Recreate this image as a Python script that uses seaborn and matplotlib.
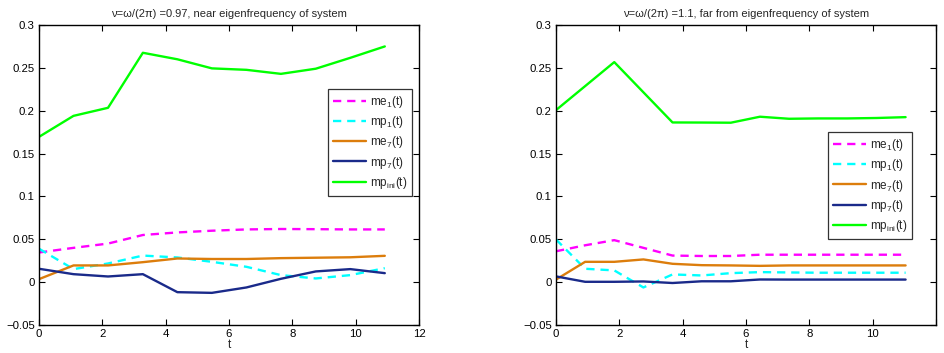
import numpy as np
import pandas as pd
import matplotlib
matplotlib.use("Agg")
import matplotlib.pyplot as plt
import seaborn as sns

# --- data -------------------------------------------------------------
t_near = [0, 1.09, 2.18, 3.28, 4.37, 5.46, 6.55, 7.64, 8.74, 9.83, 10.92]
me1_near = [0.0346, 0.040, 0.045, 0.055, 0.058, 0.060, 0.0615, 0.062, 0.0618, 0.0615, 0.0615]
mp1_near = [0.039, 0.0152, 0.0218, 0.031, 0.0288, 0.0237, 0.0179, 0.0082, 0.0043, 0.0082, 0.0163]
me7_near = [0.0035, 0.0195, 0.0195, 0.0233, 0.0276, 0.027, 0.027, 0.028, 0.0285, 0.029, 0.0307]
mp7_near = [0.0156, 0.0093, 0.0066, 0.0093, -0.0117, -0.0125, -0.0062, 0.0039, 0.0125, 0.0152, 0.0105]
mpini_near = [0.1695, 0.194, 0.2034, 0.2676, 0.260, 0.2494, 0.2477, 0.243, 0.249, 0.2617, 0.275]

t_far = [0, 0.92, 1.84, 2.76, 3.68, 4.6, 5.52, 6.44, 7.36, 8.28, 9.2, 10.12, 11.04]
me1_far = [0.036, 0.043, 0.049, 0.040, 0.031, 0.0305, 0.0305, 0.032, 0.032, 0.032, 0.032, 0.032, 0.032]
mp1_far = [0.0498, 0.0156, 0.0137, -0.0062, 0.009, 0.0078, 0.0105, 0.0117, 0.0113, 0.011, 0.011, 0.011, 0.011]
me7_far = [0.003, 0.0237, 0.0237, 0.0265, 0.0214, 0.0198, 0.0195, 0.019, 0.0195, 0.0195, 0.0195, 0.0195, 0.0195]
mp7_far = [0.0067, 0.0004, 0.0004, 0.0008, -0.001, 0.001, 0.001, 0.0031, 0.003, 0.003, 0.003, 0.003, 0.003]
mpini_far = [0.2007, 0.2287, 0.2567, 0.2215, 0.1863, 0.1862, 0.186, 0.193, 0.1906, 0.191, 0.191, 0.1915, 0.1925]

series_labels = ["me$_1$(t)", "mp$_1$(t)", "me$_7$(t)", "mp$_7$(t)", "mp$_{ini}$(t)"]
titles = ["ν=ω/(2π) =0.97, near eigenfrequency of system",
          "ν=ω/(2π) =1.1, far from eigenfrequency of system"]
x_ticks = [0, 2, 4, 6, 8, 10, 12]
y_ticks = [-0.05, 0, 0.05, 0.1, 0.15, 0.2, 0.25, 0.3]
y_tick_labels = ["\u22120.05", "0", "0.05", "0.1", "0.15", "0.2", "0.25", "0.3"]

# --- style -------------------------------------------------------------
sns.set_theme(style="ticks")
plt.rcParams["font.family"] = ["Liberation Sans", "DejaVu Sans"]
plt.rcParams["mathtext.fontset"] = "custom"
plt.rcParams["mathtext.rm"] = "Liberation Sans"
plt.rcParams["mathtext.it"] = "Liberation Sans"
plt.rcParams["mathtext.default"] = "regular"

colors = ["#ff00ff", "#00ffff", "#dc7d0c", "#1a2a8a", "#00ff00"]
dashed = [True, True, False, False, False]

fig = plt.figure(figsize=(9.44, 3.53), dpi=100)
ax_l = fig.add_axes([39 / 944, 1 - 325 / 353, 380 / 944, 300 / 353])
ax_r = fig.add_axes([556 / 944, 1 - 325 / 353, 380 / 944, 300 / 353])

panels = [
    (ax_l, t_near, [me1_near, mp1_near, me7_near, mp7_near, mpini_near], (0.9816, 0.787)),
    (ax_r, t_far, [me1_far, mp1_far, me7_far, mp7_far, mpini_far], (0.937, 0.643)),
]

for i, (ax, t, ys, anchor) in enumerate(panels):
    for lab, y, c, d in zip(series_labels, ys, colors, dashed):
        df = pd.DataFrame({"t": t, "v": y})
        sns.lineplot(data=df, x="t", y="v", ax=ax, color=c, lw=1.7,
                     label=lab, linestyle=(0, (3.5, 2.5)) if d else "-")
    ax.set_xlim(0, 12)
    ax.set_ylim(-0.05, 0.3)
    ax.set_xticks(x_ticks)
    if i == 1:
        ax.set_xticklabels([str(v) if v < 12 else "" for v in x_ticks])
    ax.set_yticks(y_ticks)
    ax.set_yticklabels(y_tick_labels)
    ax.tick_params(direction="in", length=4, width=0.8, top=True, right=True,
                   labelsize=8.2, pad=3, colors="black")
    for sp in ax.spines.values():
        sp.set_visible(True)
        sp.set_linewidth(1.0)
        sp.set_color("black")
    ax.set_xlabel("t", fontsize=8.5, labelpad=0)
    ax.set_ylabel("")
    ax.set_title(titles[i], fontsize=8, pad=6)
    leg = ax.legend(loc="upper right", bbox_to_anchor=anchor, fontsize=8.5,
                    frameon=True, fancybox=False, edgecolor="black",
                    handlelength=2.8, handletextpad=0.3, labelspacing=0.36,
                    borderpad=0.42, borderaxespad=0)
    leg.get_frame().set_linewidth(0.9)

fig.savefig("out.png", dpi=100)
